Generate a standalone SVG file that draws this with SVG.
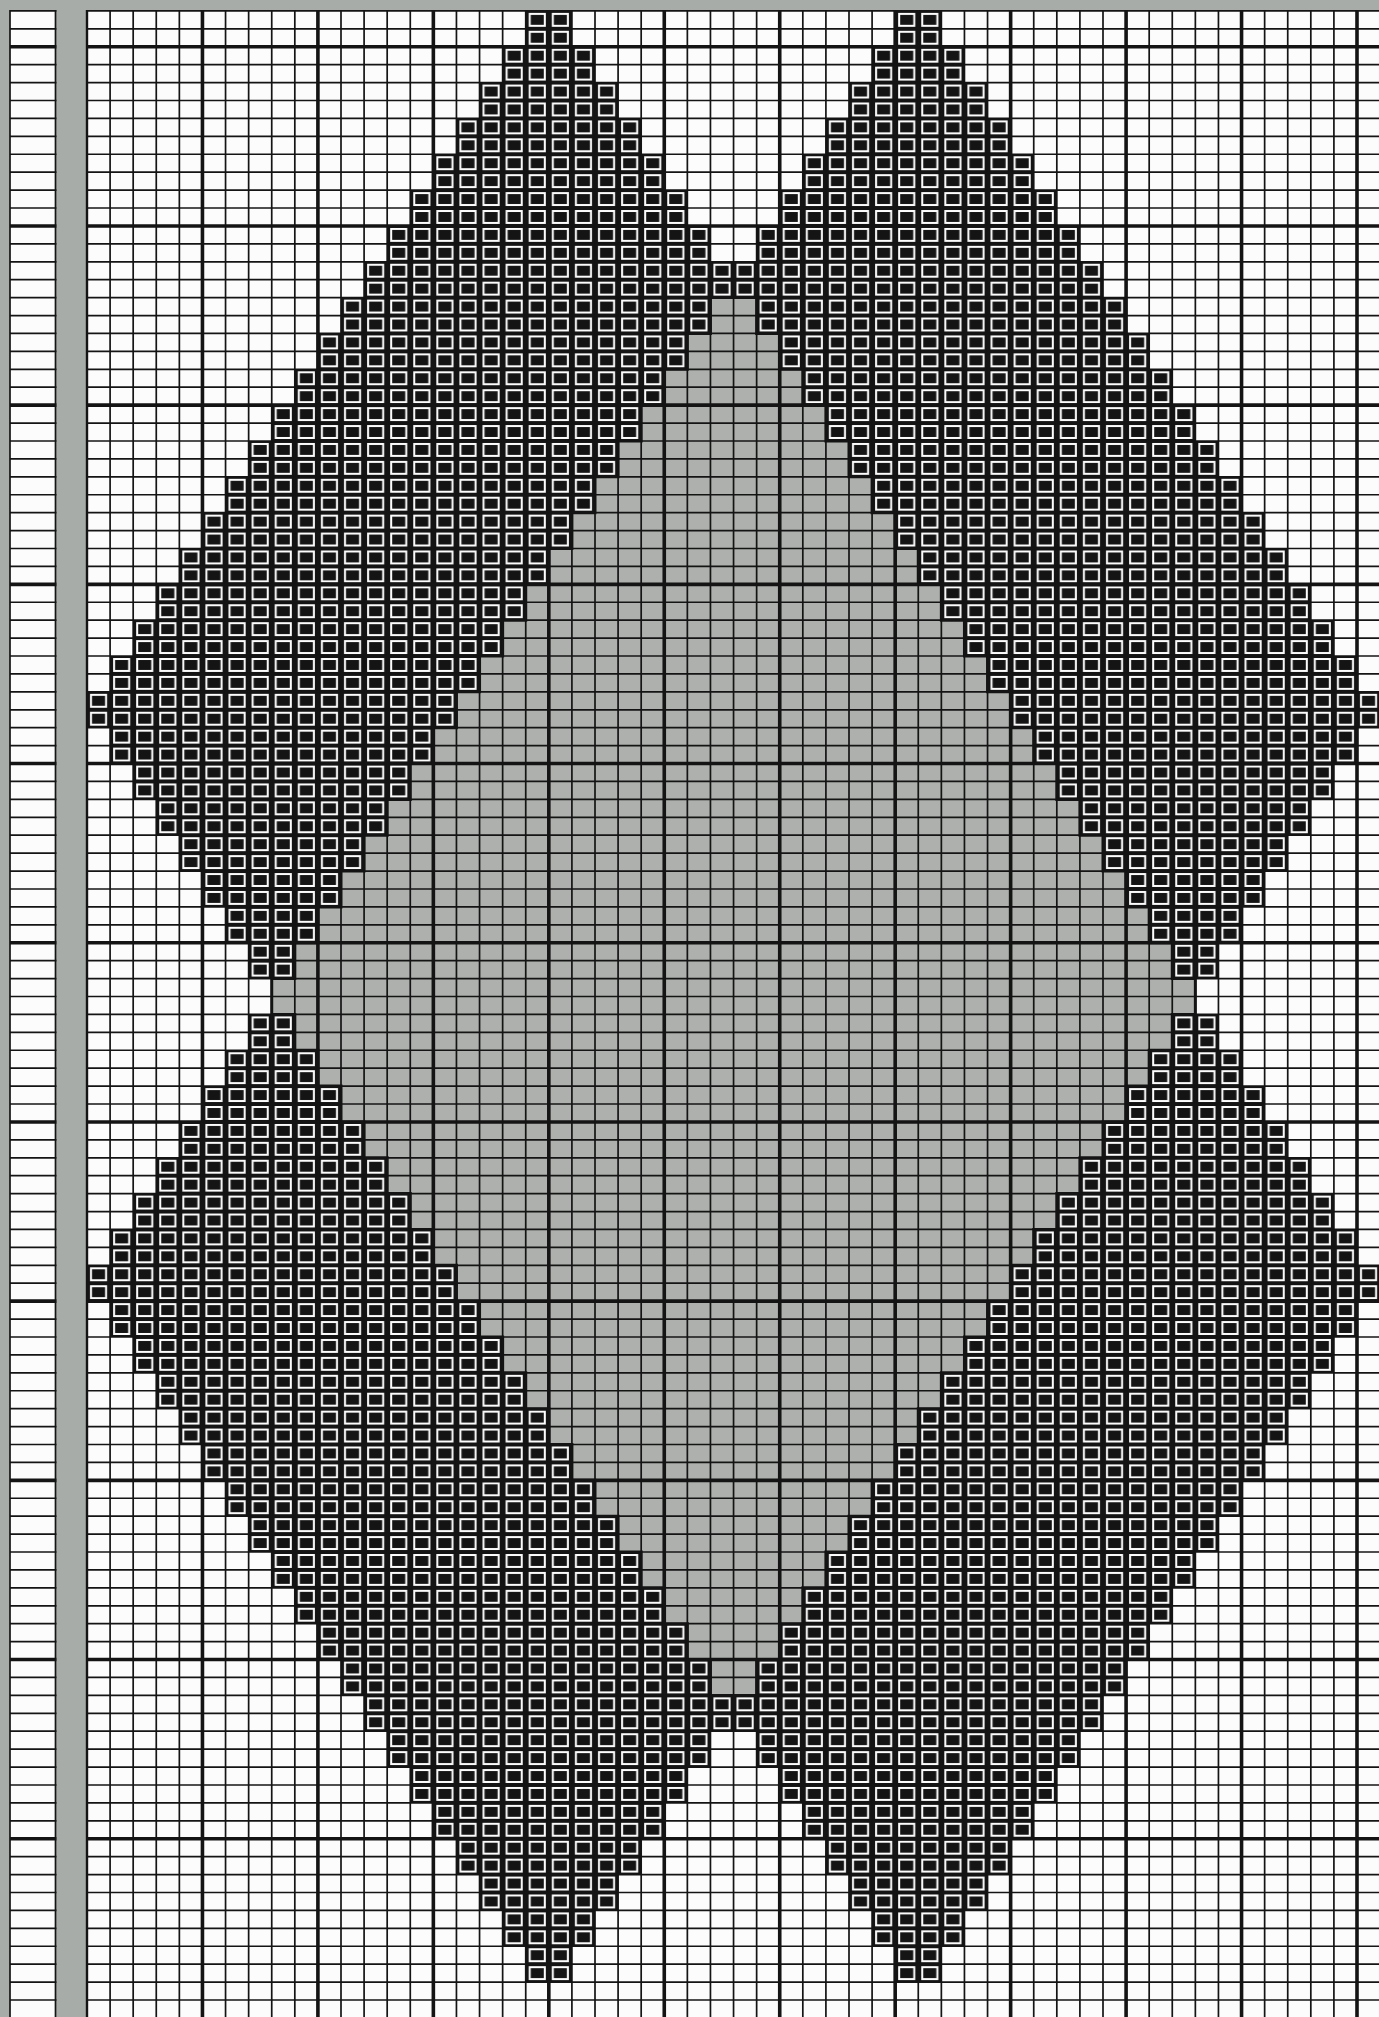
<svg xmlns="http://www.w3.org/2000/svg" width="1379" height="2017" viewBox="0 0 1379 2017">
<style>
.bg{fill:#a8aca8}
.paper{fill:#fcfcfc}
.blk{fill:url(#cell)}
.gray{fill:#adb0ac;stroke:#141414;stroke-width:3}
.thin{stroke:#141414;stroke-width:1.7;fill:none}
.heavy{stroke:#141414;stroke-width:3.6;fill:none}
.mid{stroke:#141414;stroke-width:2.4;fill:none}
</style>
<defs>
<pattern id="cell" patternUnits="userSpaceOnUse" x="0" y="0" width="23.0909" height="17.92">
<rect width="23.0909" height="17.92" fill="#141414"/>
<rect x="3" y="2" width="17.09" height="13.92" fill="#fcfcfc"/>
<rect x="5" y="4" width="13.09" height="9.92" fill="#141414"/>
</pattern>
<path id="S" d="M0 0h46.1818
v35.84h23.0909 v35.84h23.0909 v35.84h23.0909 v35.84h23.0909 v35.84h23.0909
v35.84h23.0909 v35.84h23.0909 v35.84h23.0909 v35.84h23.0909 v35.84h23.0909
v35.84h23.0909 v35.84h23.0909 v35.84h23.0909 v35.84h23.0909 v35.84h23.0909
v35.84h23.0909 v35.84h23.0909 v35.84h23.0909 v35.84h23.0909
v35.84
h-23.0909v35.84 h-23.0909v35.84 h-23.0909v35.84 h-23.0909v35.84 h-23.0909v35.84
h-23.0909v35.84 h-23.0909v35.84 h-23.0909v35.84 h-23.0909v35.84 h-23.0909v35.84
h-23.0909v35.84 h-23.0909v35.84 h-23.0909v35.84 h-23.0909v35.84 h-23.0909v35.84
h-23.0909v35.84 h-23.0909v35.84 h-23.0909v35.84 h-23.0909v35.84
h-46.1818
v-35.84h-23.0909 v-35.84h-23.0909 v-35.84h-23.0909 v-35.84h-23.0909 v-35.84h-23.0909
v-35.84h-23.0909 v-35.84h-23.0909 v-35.84h-23.0909 v-35.84h-23.0909 v-35.84h-23.0909
v-35.84h-23.0909 v-35.84h-23.0909 v-35.84h-23.0909 v-35.84h-23.0909 v-35.84h-23.0909
v-35.84h-23.0909 v-35.84h-23.0909 v-35.84h-23.0909 v-35.84h-23.0909
v-35.84
h23.0909v-35.84 h23.0909v-35.84 h23.0909v-35.84 h23.0909v-35.84 h23.0909v-35.84
h23.0909v-35.84 h23.0909v-35.84 h23.0909v-35.84 h23.0909v-35.84 h23.0909v-35.84
h23.0909v-35.84 h23.0909v-35.84 h23.0909v-35.84 h23.0909v-35.84 h23.0909v-35.84
h23.0909v-35.84 h23.0909v-35.84 h23.0909v-35.84 h23.0909v-35.84
z"/>
</defs>
<g id="background">
<rect class="bg" x="0" y="0" width="1379" height="2017"/>
<rect class="paper" x="10" y="10.9" width="45.5" height="2007"/>
<rect class="paper" x="87" y="10.9" width="1292" height="2007"/>
</g>
<g id="black-diamonds">
<use href="#S" class="blk" x="525.7273" y="10.9"/>
<use href="#S" class="blk" x="895.1818" y="10.9"/>
<use href="#S" class="blk" x="525.7273" y="584.34"/>
<use href="#S" class="blk" x="895.1818" y="584.34"/>
</g>
<g id="gray-diamond">
<use href="#S" class="gray" x="710.4545" y="297.62"/>
</g>
<g id="grid-lines">
<path class="thin" d="M10 10.9H1379M10 28.82H1379M10 64.66H1379M10 82.58H1379M10 100.5H1379M10 118.42H1379M10 136.34H1379M10 154.26H1379M10 172.18H1379M10 190.1H1379M10 208.02H1379M10 243.86H1379M10 261.78H1379M10 279.7H1379M10 297.62H1379M10 315.54H1379M10 333.46H1379M10 351.38H1379M10 369.3H1379M10 387.22H1379M10 423.06H1379M10 440.98H1379M10 458.9H1379M10 476.82H1379M10 494.74H1379M10 512.66H1379M10 530.58H1379M10 548.5H1379M10 566.42H1379M10 602.26H1379M10 620.18H1379M10 638.1H1379M10 656.02H1379M10 673.94H1379M10 691.86H1379M10 709.78H1379M10 727.7H1379M10 745.62H1379M10 781.46H1379M10 799.38H1379M10 817.3H1379M10 835.22H1379M10 853.14H1379M10 871.06H1379M10 888.98H1379M10 906.9H1379M10 924.82H1379M10 960.66H1379M10 978.58H1379M10 996.5H1379M10 1014.42H1379M10 1032.34H1379M10 1050.26H1379M10 1068.18H1379M10 1086.1H1379M10 1104.02H1379M10 1139.86H1379M10 1157.78H1379M10 1175.7H1379M10 1193.62H1379M10 1211.54H1379M10 1229.46H1379M10 1247.38H1379M10 1265.3H1379M10 1283.22H1379M10 1319.06H1379M10 1336.98H1379M10 1354.9H1379M10 1372.82H1379M10 1390.74H1379M10 1408.66H1379M10 1426.58H1379M10 1444.5H1379M10 1462.42H1379M10 1498.26H1379M10 1516.18H1379M10 1534.1H1379M10 1552.02H1379M10 1569.94H1379M10 1587.86H1379M10 1605.78H1379M10 1623.7H1379M10 1641.62H1379M10 1677.46H1379M10 1695.38H1379M10 1713.3H1379M10 1731.22H1379M10 1749.14H1379M10 1767.06H1379M10 1784.98H1379M10 1802.9H1379M10 1820.82H1379M10 1856.66H1379M10 1874.58H1379M10 1892.5H1379M10 1910.42H1379M10 1928.34H1379M10 1946.26H1379M10 1964.18H1379M10 1982.1H1379M10 2000.02H1379"/>
<path class="heavy" d="M10 46.74H1379M10 225.94H1379M10 405.14H1379M10 584.34H1379M10 763.54H1379M10 942.74H1379M10 1121.94H1379M10 1301.14H1379M10 1480.34H1379M10 1659.54H1379M10 1838.74H1379"/>
<rect class="bg" x="56.4" y="0" width="29.8" height="2017"/>
<path class="thin" d="M10 10.1V2017M55.5 10.1V2017"/>
<path class="thin" d="M110.09 10.1V2017M133.18 10.1V2017M156.27 10.1V2017M179.36 10.1V2017M225.55 10.1V2017M248.64 10.1V2017M271.73 10.1V2017M294.82 10.1V2017M341 10.1V2017M364.09 10.1V2017M387.18 10.1V2017M410.27 10.1V2017M456.45 10.1V2017M479.55 10.1V2017M502.64 10.1V2017M525.73 10.1V2017M571.91 10.1V2017M595 10.1V2017M618.09 10.1V2017M641.18 10.1V2017M687.36 10.1V2017M710.45 10.1V2017M733.55 10.1V2017M756.64 10.1V2017M802.82 10.1V2017M825.91 10.1V2017M849 10.1V2017M872.09 10.1V2017M918.27 10.1V2017M941.36 10.1V2017M964.45 10.1V2017M987.55 10.1V2017M1033.73 10.1V2017M1056.82 10.1V2017M1079.91 10.1V2017M1103 10.1V2017M1149.18 10.1V2017M1172.27 10.1V2017M1195.36 10.1V2017M1218.45 10.1V2017M1264.64 10.1V2017M1287.73 10.1V2017M1310.82 10.1V2017M1333.91 10.1V2017"/>
<path class="mid" d="M87 10.1V2017"/>
<path class="heavy" d="M202.45 10.1V2017M317.91 10.1V2017M433.36 10.1V2017M548.82 10.1V2017M664.27 10.1V2017M779.73 10.1V2017M895.18 10.1V2017M1010.64 10.1V2017M1126.09 10.1V2017M1241.55 10.1V2017M1357 10.1V2017"/>
</g>
</svg>
